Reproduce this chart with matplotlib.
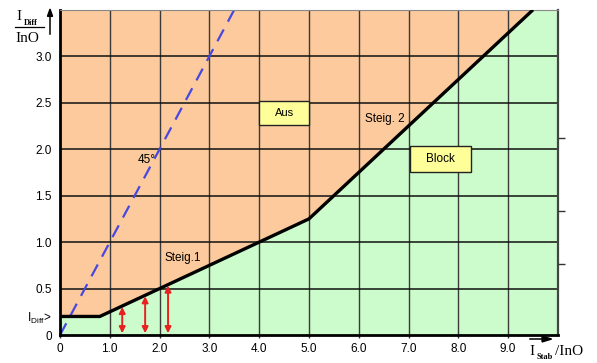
import numpy as np
import matplotlib.pyplot as plt
from matplotlib.patches import Rectangle

# tripping characteristic of the differential protection
curve_x = [0.0, 0.8, 5.0, 9.5]
curve_y = [0.2, 0.2, 1.25, 3.5]
line45_x = [0.0, 3.5]
line45_y = [0.0, 3.5]
arrow_x = [1.25, 1.71, 2.17]

x_ticks = [0, 1, 2, 3, 4, 5, 6, 7, 8, 9]
x_labels = ["0", "1.0", "2.0", "3.0", "4.0", "5.0", "6.0", "7.0", "8.0", "9.0"]
y_ticks = [0, 0.2, 0.5, 1.0, 1.5, 2.0, 2.5, 3.0]
y_labels = ["0", r"$\mathregular{I_{Diff}}$>", "0.5", "1.0", "1.5", "2.0", "2.5", "3.0"]
right_ticks = [0.76, 1.33, 2.12]

orange = "#fcca9c"
green = "#ccfccc"

plt.rcParams["font.family"] = ["Liberation Sans", "DejaVu Sans"]

fig = plt.figure(figsize=(5.97, 3.63), dpi=100)
ax = fig.add_axes([0.1005, 0.077, 0.834, 0.896])
ax.set_xlim(0, 10)
ax.set_ylim(0, 3.5)
ax.set_facecolor(orange)

# green "block" area under the characteristic
fill_x = curve_x + [10.0]
fill_y = curve_y + [3.5]
ax.fill_between(fill_x, 0, fill_y, color=green, zorder=0.5, linewidth=0)

# grid
for x in x_ticks[1:] + [10]:
    ax.axvline(x, color="#3a3a3a", lw=1.0, zorder=1)
for y in [0.5, 1.0, 1.5, 2.0, 2.5, 3.0]:
    ax.axhline(y, color="#111111", lw=1.1, zorder=1)

# 45 degree line
ax.plot(line45_x, line45_y, color="#4848e0", lw=1.6, ls=(0, (6, 4)), zorder=2)

# characteristic
ax.plot(curve_x, curve_y, color="black", lw=2.4, zorder=3, solid_capstyle="butt")

# red double arrows below the characteristic
for x in arrow_x:
    top = np.interp(x, curve_x, curve_y)
    ax.annotate("", xy=(x, top - 0.01), xytext=(x, 0.02),
                arrowprops=dict(arrowstyle="<|-|>", color="#e82020", lw=1.4,
                                mutation_scale=9, shrinkA=0, shrinkB=0), zorder=4)

# labelled boxes for the two regions
ax.add_patch(Rectangle((4.0, 2.26), 1.0, 0.26, fc="#ffff99", ec="#222222", lw=1.0, zorder=5))
ax.text(4.5, 2.39, "Aus", ha="center", va="center", fontsize=8, zorder=6)
ax.add_patch(Rectangle((7.03, 1.75), 1.22, 0.28, fc="#ffff99", ec="#222222", lw=1.0, zorder=5))
ax.text(7.64, 1.89, "Block", ha="center", va="center", fontsize=8.5, zorder=6)

ax.text(6.53, 2.33, "Steig. 2", ha="center", va="center", fontsize=8.5, zorder=5)
ax.text(2.47, 0.83, "Steig.1", ha="center", va="center", fontsize=8.5, zorder=5)
ax.text(1.75, 1.88, "45°", ha="center", va="center", fontsize=8.5, zorder=5)

# axes
ax.set_xticks(x_ticks)
ax.set_xticklabels(x_labels, fontsize=8.5)
ax.set_yticks(y_ticks)
ax.set_yticklabels(y_labels, fontsize=8.5)
ax.tick_params(axis="x", length=2, width=1, color="#333333", pad=4)
ax.tick_params(axis="y", length=0, pad=6)
for side in ["left", "bottom"]:
    ax.spines[side].set_linewidth(2.0)
    ax.spines[side].set_color("black")
ax.spines["right"].set_linewidth(1.6)
ax.spines["right"].set_color("#444444")
ax.spines["top"].set_linewidth(0.8)
ax.spines["top"].set_color("#888888")

# small marks on the right border
ax2 = ax.twinx()
ax2.set_ylim(0, 3.5)
ax2.set_yticks(right_ticks)
ax2.set_yticklabels([])
ax2.tick_params(axis="y", length=5, width=1, color="#333333")
for s in ax2.spines.values():
    s.set_visible(False)

# axis titles
serif = ["Liberation Serif", "DejaVu Serif"]
fig.text(0.027, 0.955, "I", family=serif, fontsize=11, va="center")
fig.text(0.040, 0.938, "Diff", family=serif, fontsize=6, weight="bold", va="center")
fig.add_artist(plt.Line2D([0.025, 0.074], [0.925, 0.925], color="black", lw=0.9))
fig.text(0.025, 0.895, "InO", family=serif, fontsize=11, va="center")
fig.add_artist(plt.Line2D([0.0838, 0.0838], [0.905, 0.97], color="black", lw=1.1))
fig.add_artist(plt.Polygon([[0.0795, 0.955], [0.0881, 0.955], [0.0838, 0.975]], color="black"))

fig.text(0.886, 0.032, "I", family=serif, fontsize=11, va="center")
fig.text(0.899, 0.016, "Stab", family=serif, fontsize=6, weight="bold", va="center")
fig.text(0.929, 0.032, "/InO", family=serif, fontsize=11, va="center")
fig.add_artist(plt.Line2D([0.888, 0.912], [0.066, 0.066], color="black", lw=1.1))
fig.add_artist(plt.Polygon([[0.908, 0.074], [0.908, 0.058], [0.924, 0.066]], color="black"))

fig.savefig("out.png", dpi=100)
